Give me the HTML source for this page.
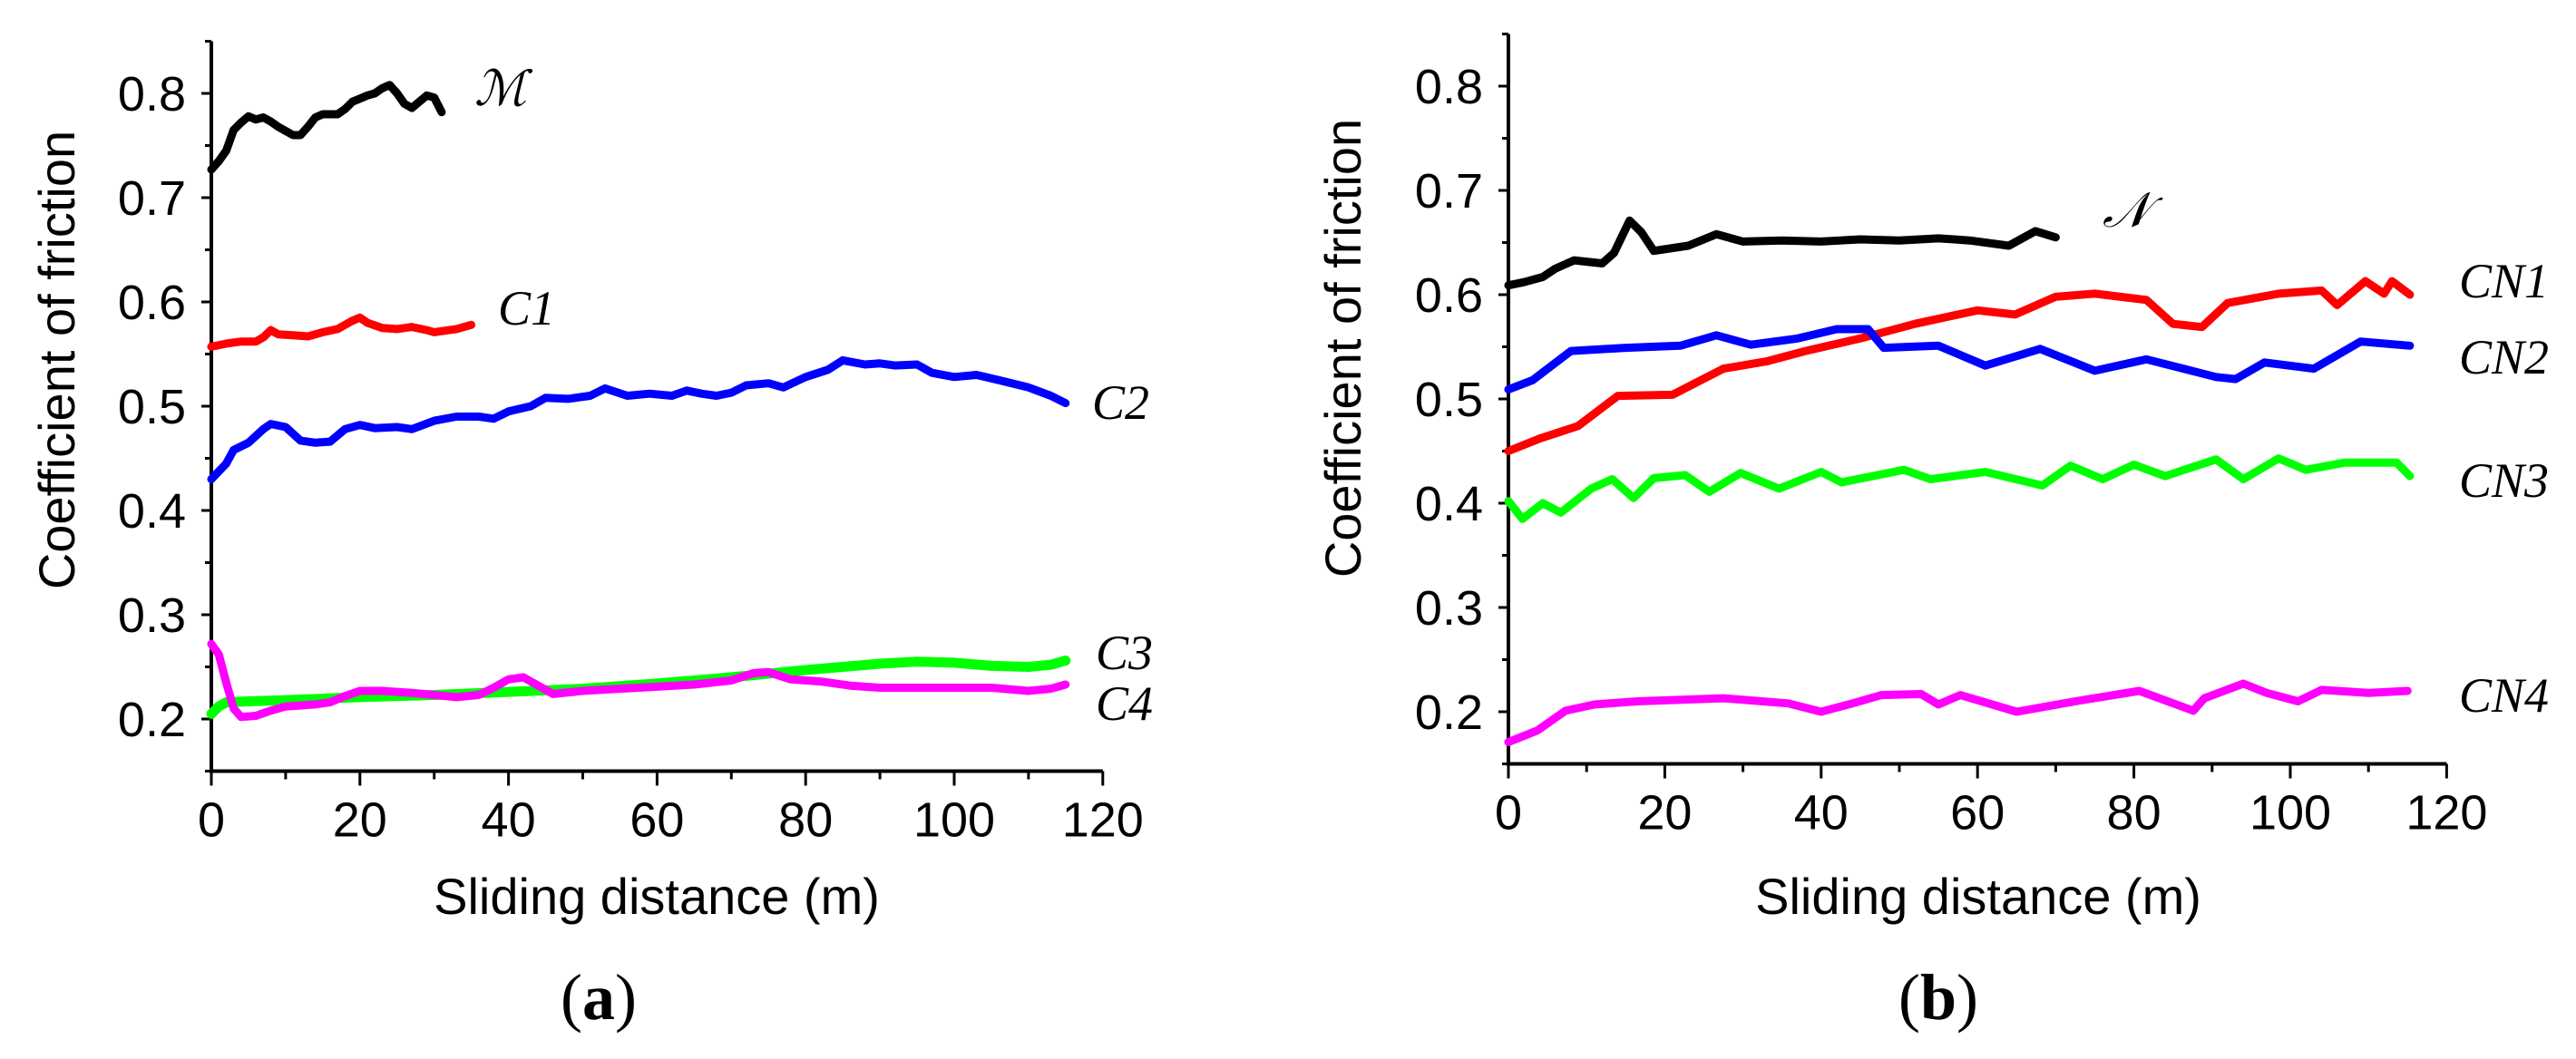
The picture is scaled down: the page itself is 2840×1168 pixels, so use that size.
<!DOCTYPE html>
<html><head><meta charset="utf-8"><style>
html,body{margin:0;padding:0;background:#fff;}
svg{display:block;}
.tk{font-family:"Liberation Sans",sans-serif;font-size:54px;fill:#000;}
.tt{font-family:"Liberation Sans",sans-serif;font-size:56px;fill:#000;}
.lb{font-family:"Liberation Serif","DejaVu Serif",serif;font-style:italic;font-size:54px;fill:#000;}
.pl{font-family:"Liberation Serif",serif;font-size:72px;fill:#000;}
</style></head><body>
<svg id="chart" width="2840" height="1168" viewBox="0 0 2840 1168" xmlns="http://www.w3.org/2000/svg"></svg>
<script>
// ---- Panel (a) data ----
const aM_x=[0,1,2,3,4,5,6,7,8,9,10,11,12,13,14,15,16,17,18,19,20,21,22,23,24,25,26,27,28,29,30,31];
const aM_y=[0.727,0.735,0.745,0.765,0.772,0.778,0.775,0.777,0.773,0.768,0.764,0.760,0.760,0.768,0.777,0.780,0.780,0.780,0.785,0.792,0.795,0.798,0.800,0.805,0.808,0.800,0.790,0.786,0.792,0.798,0.796,0.782];
const aC1_x=[0,2,4,6,7,8,9,11,13,15,17,19,20,21,23,25,27,29,30,32,33,35];
const aC1_y=[0.557,0.560,0.562,0.562,0.566,0.573,0.569,0.568,0.567,0.571,0.574,0.582,0.585,0.580,0.575,0.574,0.576,0.573,0.571,0.573,0.574,0.578];
const aC2_x=[0,2,3,5,7,8,10,12,14,16,18,20,22,25,27,30,33,36,38,40,43,45,48,51,53,56,59,62,64,66,68,70,72,75,77,80,83,85,88,90,92,95,97,100,103,106,110,113,115];
const aC2_y=[0.430,0.445,0.458,0.465,0.478,0.483,0.480,0.467,0.465,0.466,0.478,0.482,0.479,0.480,0.478,0.486,0.490,0.490,0.488,0.495,0.500,0.508,0.507,0.510,0.517,0.510,0.512,0.510,0.515,0.512,0.510,0.513,0.520,0.522,0.518,0.528,0.535,0.544,0.540,0.541,0.539,0.540,0.532,0.528,0.530,0.525,0.518,0.510,0.503];
const aC3_x=[0,1,2,5,10,20,30,40,50,60,70,80,90,95,100,105,110,113,115];
const aC3_y=[0.205,0.212,0.216,0.217,0.218,0.221,0.223,0.226,0.229,0.234,0.240,0.247,0.253,0.255,0.254,0.251,0.250,0.252,0.256];
const aC4_x=[0,1,2,3,4,6,8,10,14,16,18,20,23,27,30,33,36,38,40,42,44,46,50,55,60,65,70,73,75,78,82,86,90,95,100,105,110,113,115];
const aC4_y=[0.272,0.262,0.235,0.210,0.202,0.203,0.208,0.212,0.214,0.216,0.222,0.227,0.227,0.225,0.223,0.221,0.223,0.230,0.238,0.240,0.232,0.224,0.227,0.229,0.231,0.233,0.237,0.244,0.245,0.238,0.236,0.232,0.230,0.230,0.230,0.230,0.227,0.229,0.233];
// ---- Panel (b) data ----
const bN_x=[0,2,4.4,6,8.4,12,13.5,15.5,17,18.6,23,26.6,30,35,40,45,50,55,59,64,67.4,70];
const bN_y=[0.609,0.612,0.617,0.625,0.633,0.630,0.640,0.671,0.660,0.642,0.647,0.658,0.651,0.652,0.651,0.653,0.652,0.654,0.652,0.647,0.661,0.655];
const bCN1_x=[0,4,8.9,14,21,27.5,33,38,45,52,60,64.8,70,75,81.6,85,88.7,92,98.5,104,106,109.6,112,113,115.3];
const bCN1_y=[0.450,0.462,0.474,0.503,0.504,0.529,0.536,0.546,0.558,0.572,0.585,0.581,0.598,0.601,0.595,0.572,0.569,0.592,0.601,0.604,0.590,0.613,0.601,0.613,0.600];
const bCN2_x=[0,3.1,8,15,22,26.6,31,37,42,46,48,55,61,68,75,81.6,90.5,93,96.7,103,109,115.3];
const bCN2_y=[0.509,0.518,0.546,0.549,0.551,0.561,0.552,0.558,0.567,0.567,0.549,0.551,0.532,0.548,0.527,0.538,0.521,0.519,0.535,0.529,0.555,0.551];
const bCN3_x=[0,1.8,4.4,6.7,10.6,13.3,16,18.6,22.6,25.7,29.7,34.6,40,42.6,50.6,54,61,68.3,71.9,76,80,84,90.5,94,98.5,102,107,113.6,115.3];
const bCN3_y=[0.402,0.385,0.400,0.391,0.414,0.423,0.405,0.424,0.427,0.411,0.429,0.414,0.430,0.420,0.432,0.423,0.430,0.417,0.436,0.423,0.437,0.426,0.442,0.423,0.443,0.432,0.439,0.439,0.426];
const bCN4_x=[0,3.7,7.3,11,16.5,27.5,35.8,40,44,47.7,52.8,55,57.8,65,72.5,80.7,87.6,89,94,97,101,104,110,115];
const bCN4_y=[0.171,0.182,0.201,0.207,0.210,0.213,0.208,0.200,0.208,0.216,0.217,0.207,0.216,0.200,0.210,0.220,0.201,0.213,0.227,0.218,0.210,0.221,0.218,0.220];
const xTicks=[0,20,40,60,80,100,120];
const yTicks=[0.2,0.3,0.4,0.5,0.6,0.7,0.8];

const NS="http://www.w3.org/2000/svg";
const svg=document.getElementById('chart');
function mk(tag,attrs,parent){const e=document.createElementNS(NS,tag);for(const k in attrs)e.setAttribute(k,attrs[k]);(parent||svg).appendChild(e);return e;}

function panel(P){
  const g=mk('g',{});
  
  
  const X=m=>P.x0+m*P.sx, Y=v=>P.y02-(v-0.2)*P.sy;
  const yTop=Y(0.85), yBot=Y(0.15);
  const ax=mk('path',{d:`M${P.x0},${yTop}V${yBot}H${X(120)}`,stroke:'#000','stroke-width':4,fill:'none'},g);
  
  
  for(let v=0.15;v<=0.851;v+=0.05){const maj=Math.abs(v*10-Math.round(v*10))<0.01;
    mk('line',{x1:P.x0-(maj?11:7),x2:P.x0,y1:Y(v),y2:Y(v),stroke:'#000','stroke-width':3},g);}
  for(let m=0;m<=120;m+=10){const maj=m%20===0;
    mk('line',{x1:X(m),x2:X(m),y1:yBot,y2:yBot+(maj?16:9),stroke:'#000','stroke-width':3},g);}
  yTicks.forEach(v=>{const t=mk('text',{x:P.x0-28,y:Y(v)+19,'text-anchor':'end',class:'tk'},g);t.textContent=v.toFixed(1);
    
    });
  xTicks.forEach(m=>{const t=mk('text',{x:X(m),y:yBot+72,'text-anchor':'middle',class:'tk'},g);t.textContent=m;
    
    });
  const yt=mk('text',{x:0,y:0,'text-anchor':'middle',class:'tt',transform:`translate(${P.ytx},${P.yty}) rotate(-90)`},g);
  yt.textContent='Coefficient of friction';
  
  
  const xt=mk('text',{x:P.xtx,y:1008,'text-anchor':'middle',class:'tt'},g);
  xt.textContent='Sliding distance (m)';
  
  
  const pl=mk('text',{x:P.plx,y:1124,'text-anchor':'middle',class:'pl'},g);
  pl.innerHTML='(<tspan font-weight="bold">'+P.letter+'</tspan>)';
  
  
  P.series.forEach(s=>{
    const d=s.x.map((m,i)=>(i?'L':'M')+X(m).toFixed(1)+','+Y(s.y[i]).toFixed(1)).join('');
    const p=mk('path',{d:d,stroke:s.c,'stroke-width':s.w||9,fill:'none','stroke-linejoin':'round','stroke-linecap':'round'},g);
    
    
    const t=mk('text',{x:s.lx,y:s.ly,class:'lb'},g);t.textContent=s.label;
    
    
  });
}
panel({name:'panel-a',letter:'a',x0:233,sx:8.19,y02:793,sy:1150,ytx:82,yty:397,xtx:724,plx:660,series:[
  {x:aM_x,y:aM_y,c:'#000',label:'ℳ',lx:523,ly:116},
  {x:aC1_x,y:aC1_y,c:'#f00',label:'C1',lx:549,ly:358},
  {x:aC2_x,y:aC2_y,c:'#00f',label:'C2',lx:1204,ly:462},
  {x:aC3_x,y:aC3_y,c:'#0f0',w:11,label:'C3',lx:1208,ly:738},
  {x:aC4_x,y:aC4_y,c:'#f0f',label:'C4',lx:1208,ly:794}]});
panel({name:'panel-b',letter:'b',x0:1663,sx:8.62,y02:785,sy:1150,ytx:1500,yty:384,xtx:2181,plx:2137,series:[
  {x:bN_x,y:bN_y,c:'#000',label:'𝒩',lx:2318,ly:250},
  {x:bCN1_x,y:bCN1_y,c:'#f00',label:'CN1',lx:2711,ly:328},
  {x:bCN2_x,y:bCN2_y,c:'#00f',label:'CN2',lx:2711,ly:412},
  {x:bCN3_x,y:bCN3_y,c:'#0f0',label:'CN3',lx:2711,ly:548},
  {x:bCN4_x,y:bCN4_y,c:'#f0f',label:'CN4',lx:2711,ly:785}]});
</script>
</body></html>
